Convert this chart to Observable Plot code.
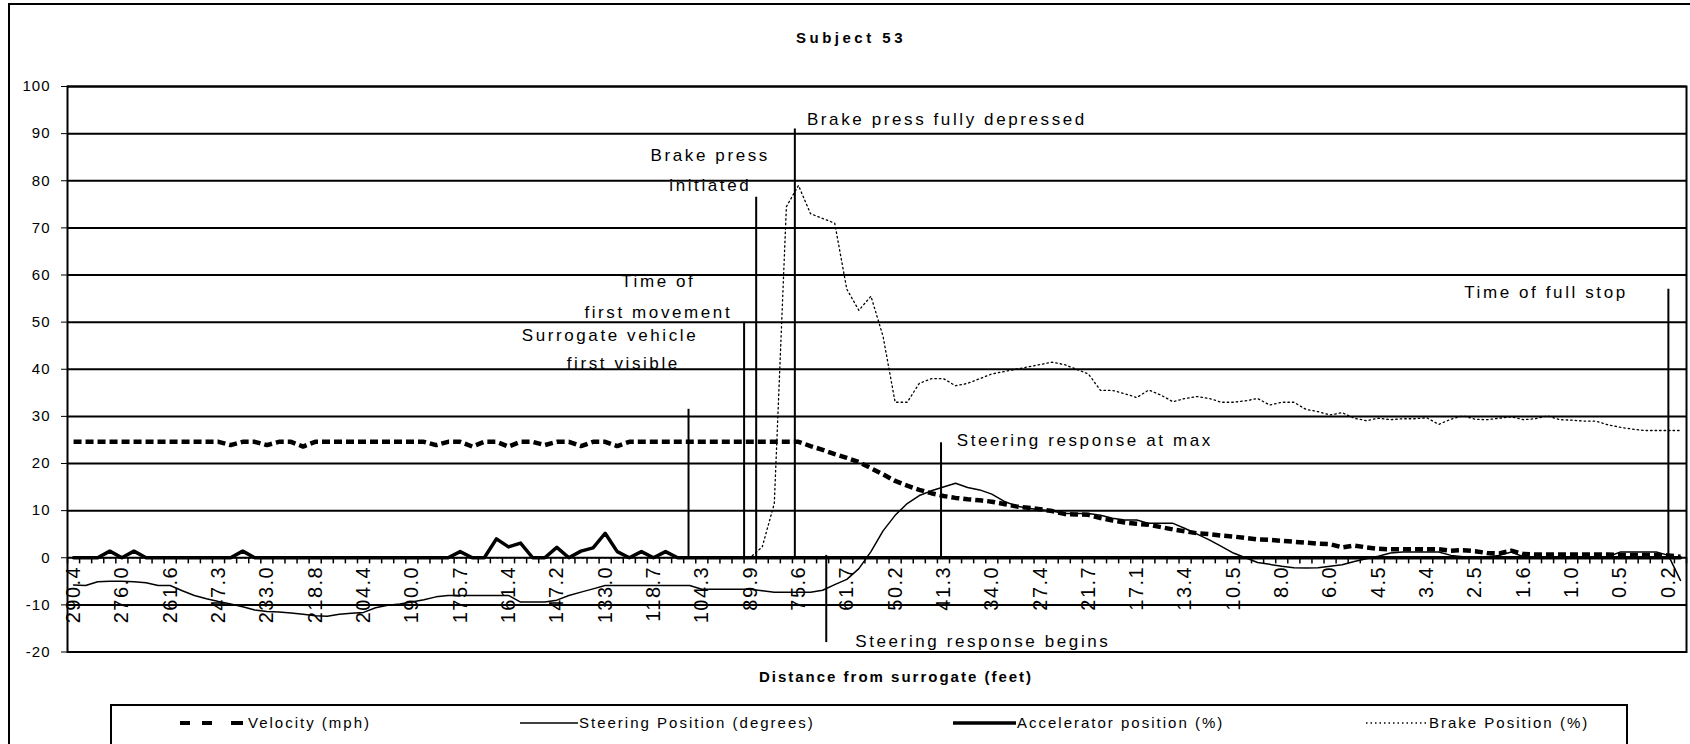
<!DOCTYPE html>
<html>
<head>
<meta charset="utf-8">
<script src="https://cdn.jsdelivr.net/npm/d3@7"></script>
<script src="https://cdn.jsdelivr.net/npm/@observablehq/plot@0.6"></script>
<style>
  html, body { margin: 0; padding: 0; background: #fff; }
  body { font-family: "Liberation Sans", Arial, sans-serif; color: #000; }
  #wrap { position: relative; width: 1690px; height: 744px; overflow: hidden; background: #fff; }
  #chart { position: absolute; left: 0; top: 0; }
  #border { position: absolute; left: 8px; top: 3px; width: 1720px; height: 800px; border: 2px solid #000; box-sizing: border-box; pointer-events: none; }
  #title { position: absolute; left: 851px; top: 28px; transform: translateX(-50%); font-weight: bold; font-size: 15px; letter-spacing: 3.5px; line-height: 20px; white-space: nowrap; }
  #xtitle { position: absolute; left: 896px; top: 667px; transform: translateX(-50%); font-weight: bold; font-size: 15px; letter-spacing: 2px; line-height: 20px; white-space: nowrap; }
  #legend { position: absolute; left: 110px; top: 704px; width: 1518px; height: 80px; border: 2px solid #000; box-sizing: border-box; }
  #legendSvg { position: absolute; left: 0; top: 0; }
  .lg { position: absolute; top: 713px; font-size: 15px; letter-spacing: 2px; line-height: 20px; white-space: nowrap; }
</style>
</head>
<body>
<div id="wrap">
  <div id="chart"></div>
  <div id="title">Subject 53</div>
  <div id="xtitle">Distance from surrogate (feet)</div>
  <div id="legend"></div>
  <svg id="legendSvg" width="1690" height="744"></svg>
  <div class="lg" style="left:248px">Velocity (mph)</div>
  <div class="lg" style="left:579px">Steering Position (degrees)</div>
  <div class="lg" style="left:1017px">Accelerator position (%)</div>
  <div class="lg" style="left:1429px">Brake Position (%)</div>
  <div id="border"></div>
</div>
<script>
// ---- Category tick labels (every 4th sample), distance from surrogate in feet
const tickLabels = ["290.4","276.0","261.6","247.3","233.0","218.8","204.4","190.0","175.7","161.4",
  "147.2","133.0","118.7","104.3","89.9","75.6","61.7","50.2","41.3","34.0","27.4","21.7","17.1",
  "13.4","10.5","8.0","6.0","4.5","3.4","2.5","1.6","1.0","0.5","0.2"];

// ---- Series (134 samples each)
const velocity = [
  24.6,24.6,24.6,24.6,24.6,24.6,24.6,24.6,24.6,24.6,
  24.6,24.6,24.6,23.9,24.6,24.6,23.9,24.6,24.6,23.6,
  24.6,24.6,24.6,24.6,24.6,24.6,24.6,24.6,24.6,24.6,
  23.9,24.6,24.6,23.6,24.6,24.6,23.6,24.6,24.6,23.9,
  24.6,24.6,23.7,24.6,24.6,23.7,24.6,24.6,24.6,24.6,
  24.6,24.6,24.6,24.6,24.6,24.6,24.6,24.6,24.6,24.6,
  24.6,23.7,22.9,22.0,21.2,20.3,19.0,17.7,16.3,15.3,
  14.4,13.7,13.1,12.7,12.4,12.2,11.9,11.4,10.9,10.6,
  10.3,9.9,9.3,9.2,9.1,8.4,7.9,7.5,7.2,7.0,
  6.5,6.0,5.6,5.2,5.0,4.7,4.5,4.2,3.9,3.8,
  3.6,3.4,3.2,3.0,2.9,2.2,2.6,2.2,1.9,1.8,
  1.8,1.8,1.8,1.8,1.5,1.6,1.4,1.0,0.9,1.5,
  0.8,0.7,0.7,0.7,0.7,0.7,0.7,0.7,0.6,0.6,
  0.6,0.6,0.5,0.2
];
const steering = [
  -5.8,-5.9,-5.1,-5.0,-5.0,-5.1,-5.3,-5.9,-5.9,-7.0,
  -8.0,-8.7,-9.3,-9.8,-10.4,-11.1,-11.4,-11.5,-11.7,-12.0,
  -12.3,-12.4,-12.0,-11.8,-11.6,-10.6,-10.1,-9.8,-9.4,-8.9,
  -8.3,-8.0,-8.0,-8.0,-8.0,-8.0,-8.0,-9.4,-9.4,-9.4,
  -9.0,-8.0,-7.3,-6.6,-5.9,-5.9,-5.9,-5.9,-5.9,-5.9,
  -5.9,-5.9,-6.7,-6.7,-6.7,-6.7,-6.7,-7.0,-7.3,-7.3,
  -7.3,-7.3,-6.9,-5.7,-4.6,-2.3,1.3,5.7,9.0,11.5,
  13.2,14.2,15.0,15.8,14.9,14.4,13.5,12.0,11.0,10.5,
  10.2,9.9,9.4,9.4,9.4,9.0,8.4,8.0,8.0,7.3,
  7.3,7.3,6.2,5.0,3.8,2.4,1.0,0.0,-1.0,-1.4,
  -1.8,-2.1,-2.2,-2.1,-1.8,-1.5,-0.8,-0.2,0.3,1.0,
  1.2,1.2,1.2,1.2,0.5,0.2,0.2,0.2,0.5,1.2,
  0.2,0.2,0.2,0.2,0.2,0.2,0.2,0.2,1.2,1.2,
  1.2,1.2,0.5,-4.8
];
const accelerator = [
  0,0,0,1.4,0,1.4,0,0,0,0,
  0,0,0,0,1.4,0,0,0,0,0,
  0,0,0,0,0,0,0,0,0,0,
  0,0,1.3,0,0,4.0,2.3,3.1,0,0,
  2.2,0,1.4,2.1,5.2,1.3,0,1.3,0,1.3,
  0,0,0,0,0,0,0,0,0,0,
  0,0,0,0,0,0,0,0,0,0,
  0,0,0,0,0,0,0,0,0,0,
  0,0,0,0,0,0,0,0,0,0,
  0,0,0,0,0,0,0,0,0,0,
  0,0,0,0,0,0,0,0,0,0,
  0,0,0,0,0,0,0,0,0,0,
  0,0,0,0,0,0,0,0,0,0,
  0,0,0,0
];
const brake = [
  0,0,0,0,0,0,0,0,0,0,
  0,0,0,0,0,0,0,0,0,0,
  0,0,0,0,0,0,0,0,0,0,
  0,0,0,0,0,0,0,0,0,0,
  0,0,0,0,0,0,0,0,0,0,
  0,0,0,0,0,0,0,2.3,11.5,74.5,
  79.0,73.0,72.0,71.0,57.0,52.5,55.5,47.0,33.0,33.0,
  37.0,38.0,38.0,36.5,37.0,38.0,39.0,39.5,40.0,40.5,
  41.0,41.5,41.0,40.0,39.0,35.5,35.5,34.8,34.0,35.6,
  34.5,33.1,33.8,34.2,33.8,33.0,33.0,33.3,33.8,32.4,
  33.0,33.0,31.5,31.0,30.3,30.8,29.6,29.1,29.6,29.3,
  29.5,29.5,29.7,28.3,29.4,30.1,29.4,29.3,29.6,29.9,
  29.3,29.5,30.1,29.3,29.2,29.0,29.0,28.2,27.7,27.3,
  27.0,27.0,27.0,27.0
];

// ---- Event markers (sample position, value range)
const markerLabels = ["Surrogate vehicle first visible","Time of first movement","Brake press initiated",
  "Brake press fully depressed","Steering response begins","Steering response at max","Time of full stop"];
const markerPos = [50.9, 55.5, 56.5, 59.7, 62.3, 71.8, 132.0];
const markerFrom = [0, 0, 0, 0, 0.5, 0, 0];
const markerTo = [31.5, 50, 76.5, 91, -18, 24.4, 57];

// ---- Annotation texts
const notesMid = [
  {label: "Brake press", x: 52.7, y: 85.3},
  {label: "initiated", x: 52.7, y: 78.9},
  {label: "Time of", x: 48.4, y: 58.6},
  {label: "first movement", x: 48.4, y: 52.1},
  {label: "Surrogate vehicle", x: 44.4, y: 47.1},
  {label: "first visible", x: 45.5, y: 41.2}
];
const notesStart = [
  {label: "Brake press fully depressed", x: 60.7, y: 92.9},
  {label: "Steering response at max", x: 73.1, y: 24.9},
  {label: "Steering response begins", x: 64.7, y: -17.8},
  {label: "Time of full stop", x: 115.1, y: 56.3}
];
const yTicks = [-20,-10,0,10,20,30,40,50,60,70,80,90,100];

// ---- Build tables
const n = velocity.length;
const rows = d3.range(n).map(i => ({i, velocity: velocity[i], steering: steering[i], accelerator: accelerator[i], brake: brake[i]}));
const tickRows = tickLabels.map((t, k) => ({i: 4 * k, t}));
const bounds = d3.range(n + 1).map(k => k - 0.5);
const markers = markerLabels.map((name, k) => ({name, x: markerPos[k], y1: markerFrom[k], y2: markerTo[k]}));

const plot = Plot.plot({
  width: 1690,
  height: 744,
  marginLeft: 67,
  marginRight: 4,
  marginTop: 86,
  marginBottom: 92.5,
  style: {fontFamily: "'Liberation Sans', Arial, sans-serif", background: "transparent", color: "#000", overflow: "visible"},
  x: {domain: [-0.5, n - 0.5], axis: null},
  y: {domain: [-20, 100], axis: null},
  marks: [
    Plot.ruleY(yTicks, {stroke: "#000", strokeWidth: 2}),
    Plot.frame({stroke: "#000", strokeWidth: 2}),
    Plot.axisY({ticks: yTicks, tickSize: 6, tickPadding: 11, fontSize: 15, tickFormat: d => String(d), stroke: "#000"}),
    Plot.ruleX(bounds, {y1: 0, y2: -1.3, stroke: "#000", strokeWidth: 1.5}),
    Plot.text(tickRows, {x: "i", y: 0, text: "t", rotate: -90, textAnchor: "end", lineAnchor: "middle", dy: 8, fontSize: 20, fill: "#000"}),
    Plot.ruleX(markers, {x: "x", y1: "y1", y2: "y2", stroke: "#000", strokeWidth: 2}),
    Plot.text(notesMid, {x: "x", y: "y", text: "label", textAnchor: "middle", fontSize: 17, fill: "#000"}),
    Plot.text(notesStart, {x: "x", y: "y", text: "label", textAnchor: "start", fontSize: 17, fill: "#000"}),
    Plot.line(rows, {x: "i", y: "velocity", stroke: "#000", strokeWidth: 4.5, strokeDasharray: "8,4", strokeLinecap: "butt"}),
    Plot.line(rows, {x: "i", y: "steering", stroke: "#000", strokeWidth: 1.5}),
    Plot.line(rows, {x: "i", y: "accelerator", stroke: "#000", strokeWidth: 3.5}),
    Plot.line(rows, {x: "i", y: "brake", stroke: "#000", strokeWidth: 1.3, strokeDasharray: "1.5,3"})
  ]
});
document.getElementById("chart").appendChild(plot);

// letter spacing to mimic the original rendering
d3.select(plot).selectAll('g[aria-label="text"][font-size="17"] text').style("letter-spacing", "2.6px");
d3.select(plot).selectAll('g[aria-label="text"][font-size="20"] text').style("letter-spacing", "1.5px");
d3.select(plot).selectAll('g[aria-label="y-axis tick label"] text').style("letter-spacing", "1px");

// legend samples
const lg = d3.select("#legendSvg");
const ly = 723;
lg.append("line").attr("x1", 180).attr("x2", 243).attr("y1", ly).attr("y2", ly)
  .attr("stroke", "#000").attr("stroke-width", 4).attr("stroke-dasharray", "10,12,10,19,12");
lg.append("line").attr("x1", 520).attr("x2", 578).attr("y1", ly).attr("y2", ly)
  .attr("stroke", "#000").attr("stroke-width", 1.5);
lg.append("line").attr("x1", 953).attr("x2", 1016).attr("y1", ly).attr("y2", ly)
  .attr("stroke", "#000").attr("stroke-width", 3.5);
lg.append("line").attr("x1", 1366).attr("x2", 1426).attr("y1", ly).attr("y2", ly)
  .attr("stroke", "#000").attr("stroke-width", 1.3).attr("stroke-dasharray", "1.5,3");
</script>
</body>
</html>
